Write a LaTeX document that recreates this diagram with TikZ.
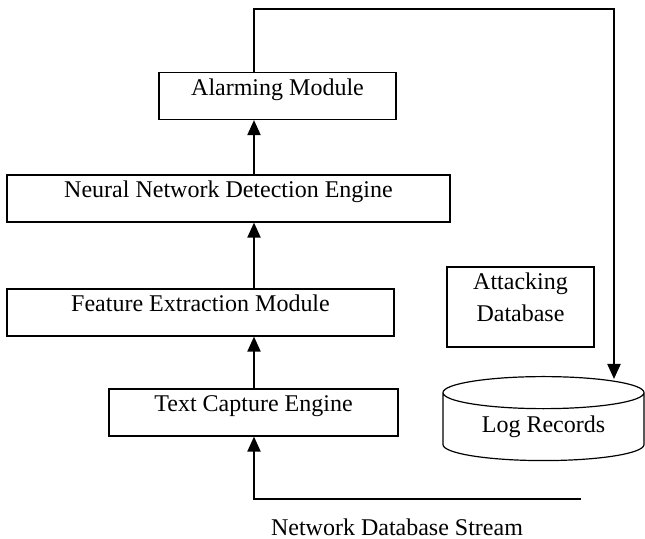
\documentclass[tikz,border=0pt]{standalone}
\usepackage{fontspec}
\setmainfont{Liberation Serif}
\usetikzlibrary{arrows.meta,shapes.geometric}

\tikzset{
  box/.style={draw, line width=0.6pt, inner sep=0pt, minimum height=23.5pt,
    text height=11.5pt, text depth=12pt},
  flow/.style={line width=1pt, -{Triangle[length=7.5pt,width=6.5pt]}}
}

\begin{document}
\begin{tikzpicture}[x=0.5pt,y=-0.5pt,font=\fontsize{12pt}{16pt}\selectfont]
\useasboundingbox (0,0) rectangle (645,539);

\node[box, minimum width=118.5pt] (alarm) at (277.5,96) {Alarming Module};
\node[box, minimum width=221.5pt] (nnde) at (228.5,198.5) {Neural Network Detection Engine};
\node[box, minimum width=193.5pt] (fem) at (200.5,312.5) {Feature Extraction Module};
\node[box, minimum width=144.5pt] (tce) at (253.5,412.5) {Text Capture Engine};
\node[box, minimum width=73.5pt, text width=73.5pt, align=center,
  text height=11.5pt, text depth=28.5pt] (attack) at (520.5,307) {Attacking\\Database};
\node[cylinder, shape border rotate=90, draw, line width=0.6pt, aspect=0.26,
  minimum width=100.5pt, minimum height=42pt, inner sep=0pt, anchor=north] (logs) at (543.5,376) {Log Records};
\node (stream) at (397,527) {Network Database Stream};

\coordinate (spine) at (254,0);
\coordinate (in) at (581,499);
\coordinate (top) at (614,9);

\draw[flow] (in) -| (tce.south -| spine);
\draw[flow] (tce.north -| spine) -- (fem.south -| spine);
\draw[flow] (fem.north -| spine) -- (nnde.south -| spine);
\draw[flow] (nnde.north -| spine) -- (alarm.south -| spine);
\draw[flow, shorten >=-1.5pt] (alarm.north -| spine) |- (top) -- (top |- logs.north);

\end{tikzpicture}
\end{document}
